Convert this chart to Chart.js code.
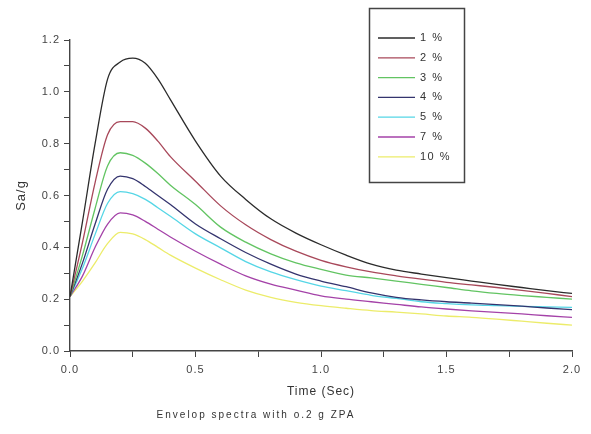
<!DOCTYPE html>
<html>
<head>
<meta charset="utf-8">
<script src="https://cdn.jsdelivr.net/npm/chart.js@4.4.0/dist/chart.umd.min.js"></script>
<style>
  body { margin: 0; background: #fff; }
  #wrap { position: relative; width: 591px; height: 434px; }
  #caption {
    position: absolute; left: 0; width: 512px; top: 409px;
    text-align: center; color: #333; letter-spacing: 2px;
    font: 10px "Liberation Sans", Arial, sans-serif;
  }
</style>
</head>
<body>
<div id="wrap">
  <canvas id="myChart" width="591" height="434"></canvas>
  <div id="caption">Envelop spectra with o.2 g ZPA</div>
</div>
<script>
// time axis (sec)
const times = [0, 0.05, 0.1, 0.15, 0.2, 0.25, 0.3, 0.35, 0.4, 0.5, 0.6, 0.7, 0.8, 0.9, 1.0, 1.1, 1.2, 1.3, 1.4, 1.5, 1.6, 1.7, 1.8, 1.9, 2.0];

// Sa/g for each damping ratio
const damp1  = [0.21, 0.50, 0.80, 1.05, 1.115, 1.13, 1.11, 1.05, 0.97, 0.81, 0.675, 0.585, 0.51, 0.455, 0.41, 0.37, 0.335, 0.312, 0.297, 0.283, 0.27, 0.257, 0.245, 0.233, 0.222];
const damp2  = [0.21, 0.42, 0.65, 0.835, 0.885, 0.885, 0.86, 0.81, 0.75, 0.655, 0.56, 0.487, 0.43, 0.385, 0.35, 0.325, 0.305, 0.29, 0.277, 0.265, 0.255, 0.245, 0.234, 0.222, 0.21];
const damp3  = [0.21, 0.37, 0.55, 0.715, 0.765, 0.755, 0.725, 0.685, 0.64, 0.565, 0.478, 0.42, 0.375, 0.34, 0.315, 0.293, 0.282, 0.27, 0.257, 0.245, 0.232, 0.222, 0.214, 0.207, 0.20];
const damp4  = [0.21, 0.34, 0.49, 0.625, 0.675, 0.665, 0.635, 0.60, 0.565, 0.49, 0.433, 0.38, 0.335, 0.297, 0.27, 0.248, 0.224, 0.207, 0.197, 0.19, 0.185, 0.179, 0.173, 0.166, 0.16];
const damp5  = [0.21, 0.32, 0.45, 0.57, 0.615, 0.607, 0.585, 0.553, 0.52, 0.452, 0.398, 0.345, 0.305, 0.275, 0.25, 0.233, 0.215, 0.203, 0.19, 0.183, 0.178, 0.175, 0.172, 0.17, 0.168];
const damp7  = [0.21, 0.29, 0.40, 0.49, 0.533, 0.525, 0.50, 0.47, 0.44, 0.385, 0.335, 0.29, 0.258, 0.235, 0.213, 0.20, 0.19, 0.18, 0.17, 0.162, 0.155, 0.149, 0.143, 0.136, 0.13];
const damp10 = [0.21, 0.27, 0.34, 0.415, 0.458, 0.452, 0.43, 0.40, 0.37, 0.32, 0.275, 0.235, 0.207, 0.188, 0.175, 0.165, 0.156, 0.15, 0.143, 0.135, 0.13, 0.123, 0.115, 0.107, 0.10];

const seriesLabels = ['1 %', '2 %', '3 %', '4 %', '5 %', '7 %', '10 %'];
const seriesData = [damp1, damp2, damp3, damp4, damp5, damp7, damp10];
const seriesColors = ['#2b2b2b', '#a8485a', '#62c462', '#34346e', '#55d6e6', '#a442a8', '#ecec6a'];

const font = '"Liberation Sans", Arial, sans-serif';

// the scanned plot has wide letter spacing on all its text
const spacedText = {
  id: 'spacedText',
  beforeUpdate(chart) { chart.ctx.letterSpacing = '1px'; },
  beforeDraw(chart) { chart.ctx.letterSpacing = '1px'; }
};

// boxed legend in the upper right, like the original plot
const boxLegend = {
  id: 'boxLegend',
  afterDraw(chart) {
    const ctx = chart.ctx;
    ctx.save();
    ctx.fillStyle = '#fff';
    ctx.fillRect(369.5, 8.5, 95, 174);
    ctx.strokeStyle = '#444';
    ctx.lineWidth = 1.5;
    ctx.strokeRect(369.5, 8.5, 95, 174);
    ctx.font = '11px ' + font;
    ctx.letterSpacing = '1.5px';
    ctx.textBaseline = 'middle';
    chart.data.datasets.forEach((ds, i) => {
      const y = 38 + i * 19.8;
      ctx.strokeStyle = ds.borderColor;
      ctx.lineWidth = 1.3;
      ctx.beginPath();
      ctx.moveTo(378, y);
      ctx.lineTo(415, y);
      ctx.stroke();
      ctx.fillStyle = '#333';
      ctx.fillText(ds.label, 420, y);
    });
    ctx.restore();
  }
};

const ctx = document.getElementById('myChart');
new Chart(ctx, {
  type: 'line',
  data: {
    datasets: seriesLabels.map((label, i) => ({
      label: label,
      data: times.map((t, j) => ({ x: t, y: seriesData[i][j] })),
      borderColor: seriesColors[i],
      backgroundColor: seriesColors[i],
      borderWidth: 1.3,
      pointRadius: 0,
      fill: false,
      cubicInterpolationMode: 'monotone'
    }))
  },
  options: {
    responsive: false,
    animation: false,
    layout: { padding: { top: 40, right: 19, bottom: 35, left: 0 } },
    plugins: {
      legend: { display: false },
      tooltip: { enabled: false }
    },
    scales: {
      x: {
        type: 'linear',
        min: 0,
        max: 2,
        afterFit: (scale) => { scale.height = 48; },
        grid: { drawOnChartArea: false, tickLength: 6, color: '#444' },
        border: { color: '#444', width: 1.4 },
        ticks: {
          stepSize: 0.25,
          autoSkip: false,
          maxRotation: 0,
          padding: 6,
          color: '#444',
          font: { family: font, size: 11 },
          callback: v => (Math.round(v * 4) % 2 === 0 ? v.toFixed(1) : '')
        },
        title: {
          display: true,
          text: 'Time (Sec)',
          color: '#333',
          font: { family: font, size: 12 },
          padding: { top: 0, bottom: 0 }
        }
      },
      y: {
        min: 0,
        max: 1.2,
        afterFit: (scale) => { scale.width = 70; },
        grid: { drawOnChartArea: false, tickLength: 6, color: '#444' },
        border: { color: '#444', width: 1.4 },
        ticks: {
          stepSize: 0.1,
          autoSkip: false,
          padding: 4,
          color: '#444',
          font: { family: font, size: 11 },
          callback: v => (Math.round(v * 10) % 2 === 0 ? v.toFixed(1) : '')
        },
        title: {
          display: true,
          text: 'Sa/g',
          color: '#333',
          font: { family: font, size: 13 },
          padding: { top: 14, bottom: 0 }
        }
      }
    }
  },
  plugins: [spacedText, boxLegend]
});
</script>
</body>
</html>
